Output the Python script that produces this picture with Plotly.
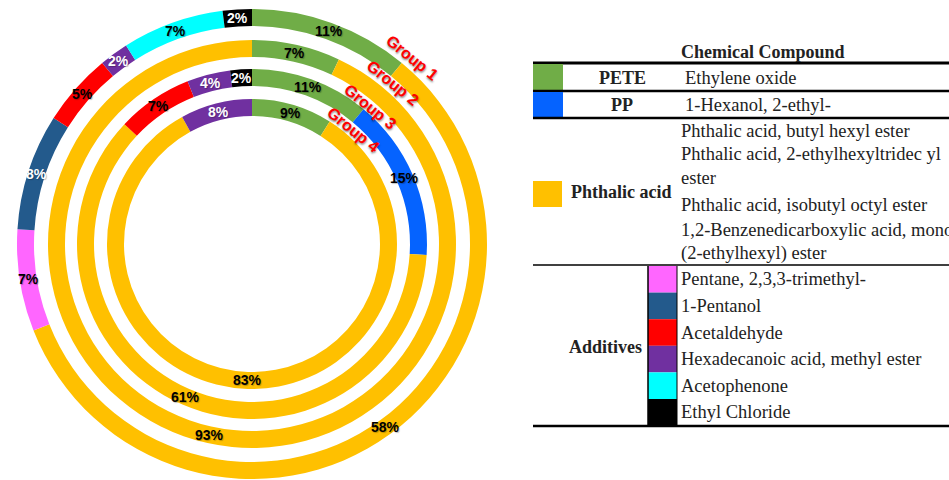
import math
import plotly.graph_objects as go

# ---------------- data ----------------
compounds = ["Ethylene oxide", "1-Hexanol, 2-ethyl-", "Phthalic acid",
             "Pentane, 2,3,3-trimethyl-", "1-Pentanol", "Acetaldehyde",
             "Hexadecanoic acid, methyl ester", "Acetophenone", "Ethyl Chloride"]
compound_colors = ["#70AD47", "#0563FF", "#FFC000", "#FF66FF", "#235A8C",
                   "#FF0000", "#7030A0", "#00FFFF", "#000000"]

groups = ["Group 1", "Group 2", "Group 3", "Group 4"]
g1_labels = ["Ethylene oxide", "Phthalic acid", "Pentane, 2,3,3-trimethyl-", "1-Pentanol",
             "Acetaldehyde", "Hexadecanoic acid, methyl ester", "Acetophenone", "Ethyl Chloride"]
g1_values = [11, 58, 7, 8, 5, 2, 7, 2]
g2_labels = ["Ethylene oxide", "Phthalic acid"]
g2_values = [7, 93]
g3_labels = ["Ethylene oxide", "1-Hexanol, 2-ethyl-", "Phthalic acid", "Acetaldehyde",
             "Hexadecanoic acid, methyl ester", "Ethyl Chloride"]
g3_values = [11, 15, 61, 7, 4, 2]
g4_labels = ["Ethylene oxide", "Phthalic acid", "Hexadecanoic acid, methyl ester"]
g4_values = [9, 83, 8]

table_header = "Chemical Compound"
pete_name, pete_items = "PETE", ["Ethylene oxide"]
pp_name, pp_items = "PP", ["1-Hexanol, 2-ethyl-"]
phth_name = "Phthalic acid"
phth_items = ["Phthalic acid, butyl hexyl ester", "Phthalic acid, 2-ethylhexyltridec yl",
              "ester", "Phthalic acid, isobutyl octyl ester",
              "1,2-Benzenedicarboxylic acid, mono", "(2-ethylhexyl) ester"]
add_name = "Additives"
add_items = ["Pentane, 2,3,3-trimethyl-", "1-Pentanol", "Acetaldehyde",
             "Hexadecanoic acid, methyl ester", "Acetophenone", "Ethyl Chloride"]

# ---------------- geometry helpers ----------------
W, H = 949, 480
def X(px): return px / W
def Y(py): return 1 - py / H

cmap = dict(zip(compounds, compound_colors))
white_text = {"1-Pentanol", "Hexadecanoic acid, methyl ester", "Ethyl Chloride"}

CX, CY = 252, 244
ring_outer = [235, 204, 175, 145]
ring_w = 17

fig = go.Figure()
annotations = []
shapes = []

ring_data = [(g1_labels, g1_values), (g2_labels, g2_values),
             (g3_labels, g3_values), (g4_labels, g4_values)]
for (labs, vals), R, gname in zip(ring_data, ring_outer, groups):
    fig.add_trace(go.Pie(
        labels=labs, values=vals, name=gname, textinfo="none",
        marker=dict(colors=[cmap[l] for l in labs], line=dict(width=0)),
        hole=(R - ring_w) / R, sort=False, direction="clockwise", rotation=0,
        domain=dict(x=[X(CX - R), X(CX + R)], y=[Y(CY + R), Y(CY - R)]),
        showlegend=False, hoverinfo="label+percent",
    ))
    # percentage labels at the middle of each slice, derived from the values
    total = sum(vals)
    rm = R - ring_w / 2
    cum = 0
    for l, v in zip(labs, vals):
        ang = math.radians((cum + v / 2) / total * 360)
        cum += v
        px = CX + rm * math.sin(ang)
        py = CY - rm * math.cos(ang)
        annotations.append(dict(
            x=X(px), y=Y(py), xref="paper", yref="paper", text=f"<b>{v}%</b>",
            showarrow=False, xanchor="center", yanchor="middle",
            font=dict(family="Liberation Sans", size=14,
                      color="white" if l in white_text else "black",
                      shadow="1px 1px 1px rgba(0,0,0,0.25)")))

# group labels
group_pos = [(412, 57), (392, 83), (370, 106), (353, 129)]
for g, (gx, gy) in zip(groups, group_pos):
    annotations.append(dict(x=X(gx), y=Y(gy), xref="paper", yref="paper", text=f"<b>{g}</b>",
                            showarrow=False, textangle=39, xanchor="center", yanchor="middle",
                            font=dict(family="Liberation Sans", size=16, color="#FF0000",
                                      shadow="1px 1px 2px rgba(0,0,0,0.45)")))

serif = "Liberation Serif"
FS = 18.5
def txt(x, y, s, bold=False, anchor="left", size=FS):
    annotations.append(dict(x=X(x), y=Y(y), xref="paper", yref="paper",
                            text=f"<b>{s}</b>" if bold else s, showarrow=False,
                            xanchor=anchor, yanchor="middle",
                            font=dict(family=serif, size=size, color="#222")))

def hline(y, w):
    shapes.append(dict(type="line", xref="paper", yref="paper", x0=X(533), x1=1.0,
                       y0=Y(y), y1=Y(y), line=dict(color="black", width=w)))

def rect(x0, y0, x1, y1, color):
    shapes.append(dict(type="rect", xref="paper", yref="paper", x0=X(x0), x1=X(x1),
                       y0=Y(y1), y1=Y(y0), fillcolor=color, line=dict(width=0), layer="above"))

# header
txt(679, 52, table_header, bold=True, size=18)
hline(63, 3)
# PETE row
rect(533, 64, 563, 90, cmap["Ethylene oxide"])
txt(622, 78, pete_name, bold=True, anchor="center", size=18)
txt(683, 78, pete_items[0])
hline(91, 2.5)
# PP row
rect(533, 92, 563, 117, cmap["1-Hexanol, 2-ethyl-"])
txt(622, 105, pp_name, bold=True, anchor="center", size=18)
txt(683, 105, pp_items[0])
hline(118, 2.5)
# Phthalic block
rect(533, 181, 562, 207, cmap["Phthalic acid"])
txt(569, 192, phth_name, bold=True, size=18)
phth_y = [131, 154, 178, 205, 230, 253]
for s, yy in zip(phth_items, phth_y):
    txt(679, yy, s)
hline(265, 1.5)
# Additives block
txt(567, 347, add_name, bold=True, size=18)
top, step = 266, 26.6
for i, s in enumerate(add_items):
    y0 = top + i * step
    rect(648, y0, 677, y0 + step, cmap[s])
    txt(679, y0 + step / 2, s)
shapes.append(dict(type="line", xref="paper", yref="paper", x0=X(648), x1=X(648),
                   y0=Y(266), y1=Y(426), line=dict(color="black", width=1.5)))
shapes.append(dict(type="line", xref="paper", yref="paper", x0=X(677), x1=X(677),
                   y0=Y(266), y1=Y(426), line=dict(color="black", width=1)))
hline(426, 2.5)

fig.update_layout(
    width=W, height=H, margin=dict(l=0, r=0, t=0, b=0),
    paper_bgcolor="white", plot_bgcolor="white",
    annotations=annotations, shapes=shapes,
    font=dict(family="Liberation Sans"),
)
fig.write_html("out.html", config={"displayModeBar": False},
               post_script="document.body.style.margin='0';document.body.style.overflow='hidden';")
